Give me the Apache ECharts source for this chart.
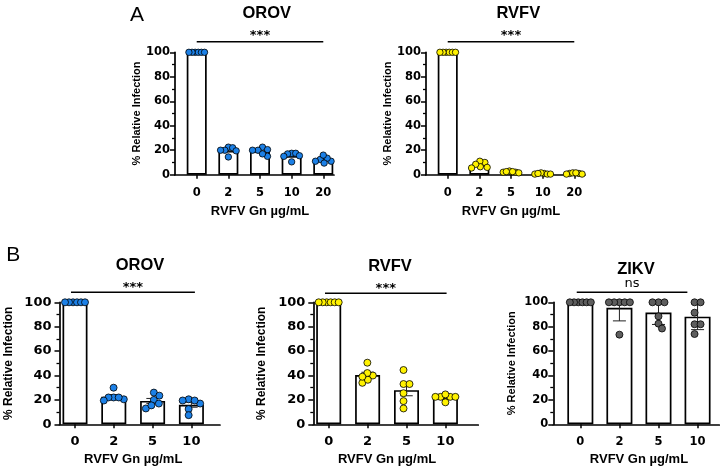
<!DOCTYPE html>
<html><head><meta charset="utf-8">
<script src="https://cdn.jsdelivr.net/npm/echarts@6/dist/echarts.min.js"></script>
<style>html,body{margin:0;padding:0;background:#fff}#c{width:728px;height:470px}</style>
</head><body><div id="c"></div>
<script>
// ---------- data ----------
const catsA = ['0', '2', '5', '10', '20'];
const catsB = ['0', '2', '5', '10'];
const xTitle = 'RVFV Gn µg/mL';
const yTitle = '% Relative Infection';
const panelTitles = ['OROV', 'RVFV', 'OROV', 'RVFV', 'ZIKV'];
const sigLabels = ['***', '***', '***', '***', 'ns'];
const panelLetters = ['A', 'B'];

const A_OROV = [
  [100, 100, 100, 100, 100, 100],
  [22.5, 22, 20, 19.5, 20, 14.5],
  [22.5, 20, 20.5, 20, 15, 17],
  [17.5, 17, 17.5, 10.5, 15, 15.5],
  [11, 13.5, 12.5, 16, 9.5, 11]
];
const A_RVFV = [
  [100, 100, 100, 100, 100, 100],
  [10, 11, 6, 6.5, 8.5, 5.5],
  [2, 3, 2.5, 2, 1.5, 2.5],
  [1, 1.5, 0.5, 0.5, 1, 0.5],
  [1, 1.5, 0.5, 1, 0.5, 1.5]
];
const B_OROV = [
  [100, 100, 100, 100, 100, 100],
  [30, 20.5, 22, 22, 22, 19.5],
  [26, 20, 13, 17, 23.5, 15.5],
  [20.5, 17, 19.5, 19.5, 12.5, 7.5]
];
const B_RVFV = [
  [100, 100, 100, 100, 100, 100],
  [50.5, 40, 42, 34, 36.5, 39],
  [44.5, 33, 33, 25.5, 19, 13],
  [22.5, 22.5, 22.5, 22.5, 24.5, 18]
];
const B_ZIKV = [
  [100, 100, 100, 100, 100, 100],
  [100, 100, 100, 100, 100, 73.5],
  [100, 100, 100, 88.5, 82.5, 78.5],
  [100, 100, 91.5, 82, 82, 74]
];
const errorKinds = ['sem', 'sem', 'sem', 'sem', 'sd'];

// ---------- layout / style ----------
const TXT = '#000';
const LBL_FONT = 'Liberation Sans, Arial, sans-serif';
const TICK_FONT = 'DejaVu Sans, Verdana, sans-serif';
const panels = [
  {cats: catsA, vals: A_OROV, color: '#1c80e6',
   frame: {left: 175, top: 52.3, width: 159, height: 122.4}, dataLeft: 180.9, dataWidth: 158.2,
   barW: 20, dot: 6.4, title: [266.7, 13.3], tickFs: 11.5, yMargin: 5, xMargin: 12, yNameFs: 11, yNameGap: 33, xNameGap: 30.5,
   sigGap: 10.6, sigTextUp: 5.8, sigExt: [0, 0]},
  {cats: catsA, vals: A_RVFV, color: '#fff200',
   frame: {left: 426, top: 52.3, width: 159, height: 122.4}, dataLeft: 431.9, dataWidth: 158.2,
   barW: 20, dot: 6.4, title: [518.3, 13.3], tickFs: 11.5, yMargin: 5, xMargin: 12, yNameFs: 11, yNameGap: 33, xNameGap: 30.5,
   sigGap: 10.6, sigTextUp: 5.8, sigExt: [0, 0]},
  {cats: catsB, vals: B_OROV, color: '#1c80e6',
   frame: {left: 59.5, top: 302.3, width: 160.5, height: 122}, dataLeft: 55.6, dataWidth: 155.2,
   barW: 25, dot: 7, title: [140, 265.5], tickFs: 13, yMargin: 8, xMargin: 10.5, yNameFs: 12, yNameGap: 45, xNameGap: 29,
   sigGap: 10, sigTextUp: 4.7, sigExt: [4, 3.5]},
  {cats: catsB, vals: B_RVFV, color: '#fff200',
   frame: {left: 313.3, top: 302.3, width: 165, height: 122}, dataLeft: 309.25, dataWidth: 155.6,
   barW: 25, dot: 7, title: [390, 266.7], tickFs: 13, yMargin: 8, xMargin: 10.5, yNameFs: 12, yNameGap: 45.5, xNameGap: 29,
   sigGap: 9, sigTextUp: 4.7, sigExt: [3.7, 1.2]},
  {cats: catsB, vals: B_ZIKV, color: '#5e5e5e',
   frame: {left: 553.3, top: 302.3, width: 166, height: 122}, dataLeft: 560.8, dataWidth: 156.3,
   barW: 26, dot: 7, title: [636, 269], tickFs: 11.5, yMargin: 5, xMargin: 11.8, yNameFs: 11, yNameGap: 35.5, xNameGap: 28.5,
   sigGap: 10, sigTextUp: 8.6, sigExt: [3.6, -10.2]}
];
const letterPos = [[137, 15], [13.3, 255.7]];
const titlePos = panels.map(p => p.title);

// ---------- helpers ----------
function mean(a) { return a.reduce((s, v) => s + v, 0) / a.length; }
function sd(a) { const m = mean(a); return Math.sqrt(a.reduce((s, v) => s + (v - m) * (v - m), 0) / (a.length - 1)); }
function swarm(vals, pxPerUnit, d, maxHalf) {
  const order = vals.map((v, i) => i).sort((a, b) => vals[b] - vals[a]);
  const placed = [], off = new Array(vals.length).fill(0);
  for (const i of order) {
    const y = vals[i] * pxPerUnit;
    let chosen = 0;
    for (let k = 0; k < 400; k++) {
      const cand = (k % 2 === 1 ? 1 : -1) * Math.ceil(k / 2) * 0.5;
      if (placed.every(q => Math.hypot(q.x - cand, q.y - y) >= d)) { chosen = cand; break; }
    }
    placed.push({x: chosen, y}); off[i] = chosen;
  }
  const mx = Math.max(...off), mn = Math.min(...off), sh = (mx + mn) / 2;
  let o = off.map(x => x - sh);
  const half = Math.max(...o.map(Math.abs));
  if (half > maxHalf) o = o.map(x => x * maxHalf / half);
  return o;
}

const grid = [], xAxis = [], yAxis = [], series = [], graphic = [];
const axisLine = {color: '#000', width: 1.7};
panels.forEach((p, i) => {
  const fg = grid.length;
  grid.push({left: p.frame.left, top: p.frame.top, width: p.frame.width, height: p.frame.height, outerBoundsMode: 'none', containLabel: false});
  const dg = grid.length;
  grid.push({left: p.dataLeft, top: p.frame.top, width: p.dataWidth, height: p.frame.height, outerBoundsMode: 'none', containLabel: false});
  const fx = xAxis.length;
  xAxis.push({gridIndex: fg, type: 'value', min: 0, max: 1, axisLine: {show: true, onZero: false, lineStyle: axisLine},
    axisTick: {show: false}, axisLabel: {show: false}, splitLine: {show: false}});
  yAxis.push({gridIndex: fg, type: 'value', min: 0, max: 100, interval: 20,
    name: yTitle, nameLocation: 'middle', nameGap: p.yNameGap, nameMoveOverlap: false,
    nameTextStyle: {fontFamily: LBL_FONT, fontWeight: 'bold', fontSize: p.yNameFs, color: TXT},
    axisLine: {show: true, onZero: false, lineStyle: axisLine},
    axisTick: {show: true, length: 5, lineStyle: {color: '#000', width: 1.5}},
    minorTick: {show: true, splitNumber: 2, length: 3, lineStyle: {color: '#000', width: 1.3}},
    axisLabel: {margin: p.yMargin, fontFamily: TICK_FONT, fontWeight: 'bold', fontSize: p.tickFs, color: TXT},
    splitLine: {show: false}, minorSplitLine: {show: false}});
  const dx = xAxis.length;
  xAxis.push({gridIndex: dg, type: 'category', data: p.cats, boundaryGap: true,
    axisLine: {show: false}, axisTick: {show: true, alignWithLabel: true, length: 4, lineStyle: {color: '#000', width: 1.5}},
    axisLabel: {margin: p.xMargin, fontFamily: TICK_FONT, fontWeight: 'bold', fontSize: p.tickFs, color: TXT},
    name: xTitle, nameLocation: 'middle', nameGap: p.xNameGap, nameMoveOverlap: false,
    nameTextStyle: {fontFamily: LBL_FONT, fontWeight: 'bold', fontSize: 13, color: TXT},
    splitLine: {show: false}});
  const dy = yAxis.length;
  yAxis.push({gridIndex: dg, type: 'value', min: 0, max: 100, show: false, splitLine: {show: false}});

  const means = p.vals.map(mean);
  const errs = p.vals.map(a => errorKinds[i] === 'sd' ? sd(a) : sd(a) / Math.sqrt(a.length));
  series.push({type: 'bar', xAxisIndex: dx, yAxisIndex: dy, data: means, barWidth: p.barW, silent: true, z: 2,
    itemStyle: {color: '#fff', borderColor: '#000', borderWidth: 1.7}});
  const capHalf = p.barW * 0.25;
  series.push({type: 'custom', xAxisIndex: dx, yAxisIndex: dy, silent: true, z: 3, clip: false,
    data: means.map((m, k) => [k, m, errs[k]]), encode: {x: 0, y: 1},
    renderItem: (params, api) => {
      const x = api.value(0), m = api.value(1), e = api.value(2);
      if (!(e > 0.05)) return {type: 'group', children: []};
      const t = api.coord([x, Math.min(m + e, 100)]), b = api.coord([x, m - e]);
      const st = {stroke: '#222', lineWidth: 1};
      return {type: 'group', children: [
        {type: 'line', shape: {x1: t[0], y1: t[1], x2: b[0], y2: b[1]}, style: st},
        {type: 'line', shape: {x1: t[0] - capHalf, y1: t[1], x2: t[0] + capHalf, y2: t[1]}, style: st},
        {type: 'line', shape: {x1: b[0] - capHalf, y1: b[1], x2: b[0] + capHalf, y2: b[1]}, style: st}
      ]};
    }});
  const pxPerUnit = p.frame.height / 100;
  const pts = [];
  p.vals.forEach((arr, k) => {
    const offs = swarm(arr, pxPerUnit, p.dot * 0.85, (p.barW - p.dot) / 2 + 1);
    arr.forEach((v, j) => pts.push({value: [k, v], symbolOffset: [offs[j], 0]}));
  });
  series.push({type: 'scatter', xAxisIndex: dx, yAxisIndex: dy, data: pts, symbolSize: p.dot, silent: true, z: 4, clip: false,
    itemStyle: {color: p.color, borderColor: '#000', borderWidth: 0.8, opacity: 1}});
  const last = p.cats.length - 1;
  series.push({type: 'custom', xAxisIndex: dx, yAxisIndex: dy, silent: true, z: 5, clip: false,
    data: [[0, 100, last]], encode: {x: 0, y: 1},
    renderItem: (params, api) => {
      const a = api.coord([api.value(0), 100]), b = api.coord([api.value(2), 100]);
      const y = a[1] - p.sigGap;
      const isStar = sigLabels[i].indexOf('*') >= 0;
      return {type: 'group', children: [
        {type: 'line', shape: {x1: a[0] - p.sigExt[0], y1: y, x2: b[0] + p.sigExt[1], y2: y}, style: {stroke: '#000', lineWidth: 1.5}},
        {type: 'text', style: {text: sigLabels[i], x: (a[0] - p.sigExt[0] + b[0] + p.sigExt[1]) / 2, y: y - p.sigTextUp,
          align: 'center', verticalAlign: 'middle', fill: TXT,
          font: (isStar ? 'bold 13px ' : 'normal 13px ') + TICK_FONT}}
      ]};
    }});
  graphic.push({type: 'text', x: titlePos[i][0], y: titlePos[i][1], silent: true,
    style: {text: panelTitles[i], align: 'center', verticalAlign: 'middle', fill: TXT, font: 'bold 16.5px ' + LBL_FONT}});
});
panelLetters.forEach((L, i) => graphic.push({type: 'text', x: letterPos[i][0], y: letterPos[i][1], silent: true,
  style: {text: L, align: 'center', verticalAlign: 'middle', fill: TXT, font: 'normal 21px ' + LBL_FONT}}));

const chart = echarts.init(document.getElementById('c'), null, {renderer: 'canvas'});
chart.setOption({animation: false, backgroundColor: '#fff', grid, xAxis, yAxis, series, graphic});
</script></body></html>
